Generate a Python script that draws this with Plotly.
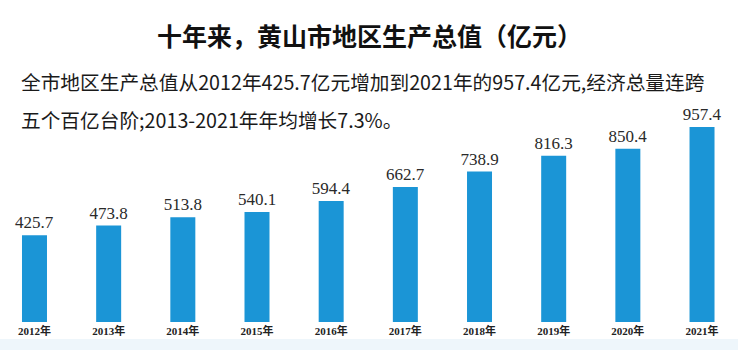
import plotly.graph_objects as go

years = ["2012年", "2013年", "2014年", "2015年", "2016年",
         "2017年", "2018年", "2019年", "2020年", "2021年"]
gdp = [425.7, 473.8, 513.8, 540.1, 594.4, 662.7, 738.9, 816.3, 850.4, 957.4]

title_text = "十年来，黄山市地区生产总值（亿元）"
sub_line1 = "全市地区生产总值从2012年425.7亿元增加到2021年的957.4亿元,经济总量连跨"
sub_line2 = "五个百亿台阶;2013-2021年年均增长7.3%。"

fig = go.Figure()
fig.add_trace(go.Bar(
    x=years, y=gdp,
    width=0.337,
    marker=dict(color="#1b95d6", line=dict(width=0)),
    texttemplate="%{y:.1f}",
    textposition="outside",
    constraintext="none",
    textfont=dict(family="Liberation Serif", size=17, color="#2a2a2a"),
    cliponaxis=False,
    hoverinfo="skip",
))

W, H = 738, 350
mt, mb = 110, 28
ph = H - mt - mb

fig.update_layout(
    width=W, height=H,
    margin=dict(l=0, r=0, t=mt, b=mb, pad=0),
    paper_bgcolor="white", plot_bgcolor="white",
    showlegend=False,
    xaxis=dict(type="category", range=[-0.465, 9.485], showgrid=False,
               showline=False, zeroline=False, ticks="",
               tickfont=dict(family="Liberation Serif, Noto Sans CJK SC", size=11,
                             color="#222222", weight="bold"),
               ticklabelstandoff=1),
    yaxis=dict(range=[0, 1041], visible=False, showgrid=False, zeroline=False),
    annotations=[
        dict(text=title_text, xref="paper", yref="paper", x=0.5,
             y=(H - 35 - mb) / ph, xanchor="center", yanchor="middle",
             showarrow=False,
             font=dict(family="Noto Sans CJK SC", size=25, color="#111111", weight="bold")),
        dict(text=sub_line1, xref="paper", yref="paper", x=19 / W,
             y=(H - 81 - mb) / ph, xanchor="left", yanchor="middle",
             showarrow=False,
             font=dict(family="Noto Sans CJK SC", size=19.7, color="#1a1a1a")),
        dict(text=sub_line2, xref="paper", yref="paper", x=19 / W,
             y=(H - 119 - mb) / ph, xanchor="left", yanchor="middle",
             showarrow=False,
             font=dict(family="Noto Sans CJK SC", size=19.7, color="#1a1a1a")),
    ],
    shapes=[
        dict(type="rect", xref="paper", yref="paper", x0=0, x1=1,
             y0=-(339 - (H - mb)) / ph, y1=-mb / ph,
             fillcolor="#eef6fb", line=dict(width=0), layer="below"),
    ],
)

fig.write_html("out.html")
